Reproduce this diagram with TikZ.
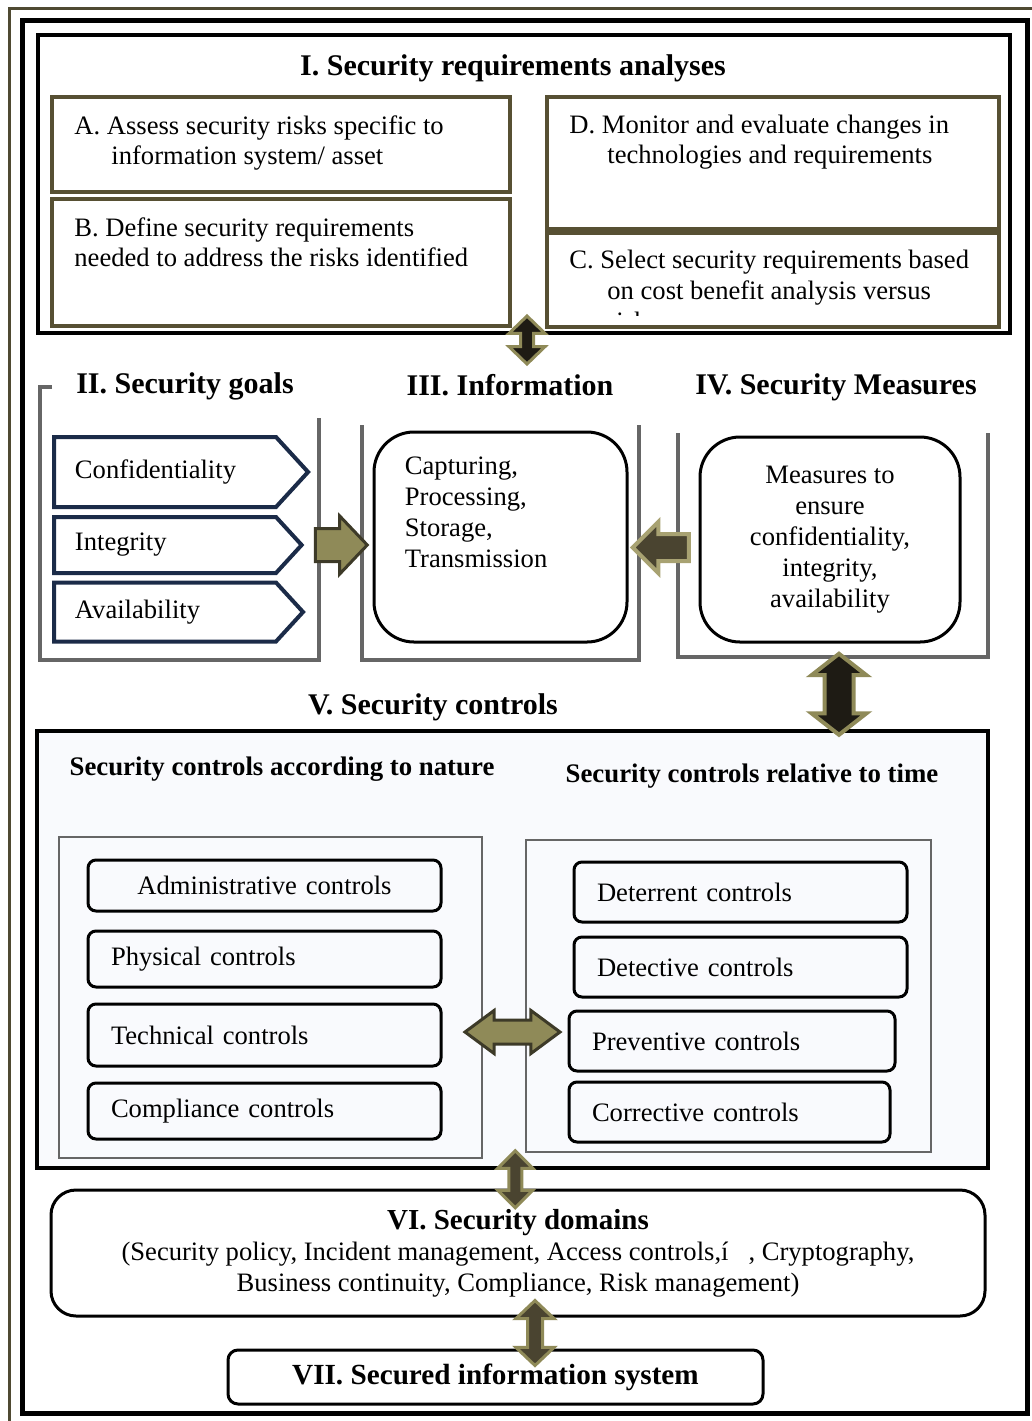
\documentclass[tikz,border=0pt]{standalone}
\usepackage{fontspec}
\setmainfont{Liberation Serif}
\usetikzlibrary{positioning, shapes.arrows, shapes.symbols}
\definecolor{boxolive}{HTML}{575033}
\definecolor{frameolive}{HTML}{4F4A32}
\definecolor{arrolive}{HTML}{8F8A58}
\definecolor{arrlight}{HTML}{A8A272}
\definecolor{arrdark}{HTML}{4A4430}
\definecolor{arrblack}{HTML}{1E1B14}
\definecolor{arrrim}{HTML}{3D3A28}
\definecolor{navy}{HTML}{1B2B48}
\definecolor{bracket}{HTML}{666666}
\definecolor{vfill}{HTML}{F9FAFD}
\tikzstyle{txt} = [inner sep=0pt, align=left, font=\fontsize{13.3}{15}\selectfont]
\tikzstyle{head} = [inner sep=0pt, font=\fontsize{15}{18}\selectfont\bfseries]
\tikzstyle{subhead} = [inner sep=0pt, font=\fontsize{13.4}{15}\selectfont\bfseries]
\tikzstyle{obox} = [draw=boxolive, line width=2pt, minimum width=229pt]
\tikzstyle{chev} = [signal, signal to=east, signal pointer angle=95, draw=navy, line width=2pt, text width=90pt, align=left, inner xsep=10.5pt, font=\fontsize{13.3}{15}\selectfont, anchor=west]
\tikzstyle{rbox} = [draw, line width=1.5pt, rounded corners=20pt]
\tikzstyle{ctrl} = [draw, line width=1.5pt, rounded corners=4pt, fill=vfill, inner xsep=11.5pt, align=left, font=\fontsize{13.3}{15}\selectfont]
\tikzstyle{grpbox} = [draw=bracket, line width=1pt, fill=vfill]
\tikzstyle{bracketline} = [draw=bracket, line width=2pt]
\tikzstyle{darr} = [double arrow, inner xsep=0pt, line width=1.5pt, draw=arrolive, fill=arrblack]
\tikzstyle{sarr} = [single arrow, inner xsep=0pt, line width=1.5pt]

\begin{document}
\begin{tikzpicture}[x=0.5pt, y=-0.5pt]
\useasboundingbox (0,0) rectangle (1032,1421);

% page frame
\draw[frameolive, line width=1.5pt] (9,1421) -- (9,8) -- (1032,8);
\draw[line width=2.5pt] (22,20) rectangle (1027,1413);

% I. requirements analyses
\node[draw, line width=2pt, minimum width=486pt, minimum height=149pt] (secI) at (524,184) {};
\node[head] (titleI) at (513,68) {I. Security requirements analyses};
\node[obox, minimum height=47.5pt] (boxA) at (281,144.5) {};
\node[obox, minimum height=63.5pt] (boxB) at (281,262.5) {};
\node[obox, minimum width=226pt, minimum height=66pt] (boxD) at (773,163) {};
\node[obox, minimum width=226pt, minimum height=47pt] (boxC) at (773,280) {};
\node[txt, below right=10pt and 12pt of boxA.north west] (txtA) {A. Assess security risks specific to\\\hspace*{18.5pt}information system/ asset};
\node[txt, below right=10pt and 12pt of boxB.north west] (txtB) {B. Define security requirements\\needed to address the risks identified};
\node[txt, below right=10pt and 12pt of boxD.north west] (txtD) {D. Monitor and evaluate changes in\\\hspace*{19pt}technologies and requirements};
\begin{scope}
	\clip (549,235) rectangle (997,315);
	\node[txt, font=\fontsize{13.3}{15.5}\selectfont, below right=9.5pt and 12pt of boxC.north west] (txtC) {C. Select security requirements based\\\hspace*{19pt}on cost benefit analysis versus\\\hspace*{19pt}risk};
\end{scope}

% II. goals
\node[head] (titleII) at (185,386) {II. Security goals};
\draw[bracketline] (52,387) -- (40,387) -- (40,660) -- (319,660) -- (319,418);
\node[chev, minimum height=35pt] (conf) at (52,472) {Confidentiality};
\node[chev, minimum height=28pt] (integ) at (52,545) {Integrity};
\node[chev, minimum height=29.5pt] (avail) at (52,612) {Availability};

% III. information
\node[head] (titleIII) at (510,385) {III. Information};
\draw[bracketline] (362,425) -- (362,660) -- (639,660) -- (639,425);
\node[rbox, minimum width=126.5pt, minimum height=105pt] (infoBox) at (500.5,537) {};
\node[txt, font=\fontsize{13.3}{15.5}\selectfont, below right=13pt and 16pt of infoBox.north west] (infoTxt) {Capturing,\\Processing,\\Storage,\\Transmission};

% IV. measures
\node[head] (titleIV) at (836,387) {IV. Security Measures};
\draw[bracketline] (678,433) -- (678,657) -- (988,657) -- (988,433);
\node[rbox, minimum width=130pt, minimum height=102.5pt, align=center, font=\fontsize{13.3}{15.5}\selectfont] (measBox) at (830,539.5) {Measures to\\ensure\\confidentiality,\\integrity,\\availability};

% V. controls
\node[head] (titleV) at (433,707) {V. Security controls};
\node[draw, line width=2pt, fill=vfill, minimum width=475.5pt, minimum height=218.5pt] (secV) at (512.5,949.5) {};
\node[subhead] (natTitle) at (282,769) {Security controls according to nature};
\node[subhead] (timeTitle) at (752,776) {Security controls relative to time};
\node[grpbox, minimum width=211.5pt, minimum height=160.5pt] (natGrp) at (270.5,997.5) {};
\node[grpbox, minimum width=202.5pt, minimum height=156pt] (timeGrp) at (728.5,996) {};
\node[ctrl, text width=153.5pt, align=center, minimum height=25.5pt] (adm) at (264.5,885.5) {Administrative controls};
\node[ctrl, text width=153.5pt, minimum height=28pt] (phys) at (264.5,959) {Physical controls};
\node[ctrl, text width=153.5pt, minimum height=31pt] (tech) at (264.5,1035) {Technical controls};
\node[ctrl, text width=153.5pt, minimum height=28pt] (comp) at (264.5,1111) {Compliance controls};
\node[ctrl, text width=143.5pt, minimum height=30pt] (deter) at (740.5,892) {Deterrent controls};
\node[ctrl, text width=143.5pt, minimum height=30pt] (detect) at (740.5,967) {Detective controls};
\node[ctrl, text width=140pt, minimum height=30pt] (prev) at (732,1041) {Preventive controls};
\node[ctrl, text width=137.5pt, minimum height=30pt] (corr) at (729.5,1112) {Corrective controls};

% VI. and VII.
\node[rbox, rounded corners=12.5pt, minimum width=467pt, minimum height=63pt, align=center, font=\fontsize{13.3}{15.5}\selectfont] (secVI) at (518,1253) {{\fontsize{14.5}{16}\selectfont\bfseries VI. Security domains}\\(Security policy, Incident management, Access controls,í\ \ \ , Cryptography,\\Business continuity, Compliance, Risk management)};
\node[rbox, rounded corners=5pt, minimum width=267.5pt, minimum height=27pt, font=\fontsize{14.6}{18}\selectfont\bfseries] (secVII) at (495.5,1377) {VII. Secured information system};

% fat arrows
\node[darr, fill=arrblack, rotate=90, inner ysep=2.5pt, minimum height=24pt, double arrow head extend=5.75pt, double arrow tip angle=92] (arrReq) at ([xshift=1.5pt,yshift=-2.5pt]secI.south) {};
\path (integ.east) -- node[sarr, fill=arrolive, draw=arrrim, xshift=-2.5pt, inner ysep=7.5pt, minimum height=26pt, single arrow head extend=6.25pt, single arrow tip angle=93] (arrGoal) {} (infoBox.west |- integ.east);
\path (measBox.west) -- node[sarr, fill=arrdark, draw=arrlight, line width=2pt, shape border rotate=180, yshift=-4pt, xshift=2pt, inner ysep=5.75pt, minimum height=28pt, single arrow head extend=6pt, single arrow tip angle=90] (arrMeas) {} (infoBox.east |- measBox.west);
\path (measBox.south) -- node[darr, line width=2pt, rotate=90, xshift=-4pt, yshift=-4.5pt, inner ysep=6.25pt, minimum height=40.5pt, double arrow head extend=6.5pt, double arrow tip angle=104] (arrCtrl) {} (secV.north -| measBox.south);
\path (tech.east) -- node[darr, fill=arrolive, draw=arrrim, xshift=3.75pt, yshift=3pt, inner ysep=5.25pt, minimum height=47.5pt, double arrow head extend=4.75pt, double arrow tip angle=73] (arrNT) {} (prev.west);
\path (secV.south) -- node[darr, fill=arrdark, rotate=90, inner ysep=2.5pt, minimum height=28.5pt, double arrow head extend=5.5pt, double arrow tip angle=90] (arrDom) {} (secVI.north);
\node[darr, fill=arrdark, rotate=90, inner ysep=3pt, minimum height=32.5pt, double arrow head extend=5.75pt, double arrow tip angle=93] (arrSys) at (535,1333) {};

\end{tikzpicture}
\end{document}
